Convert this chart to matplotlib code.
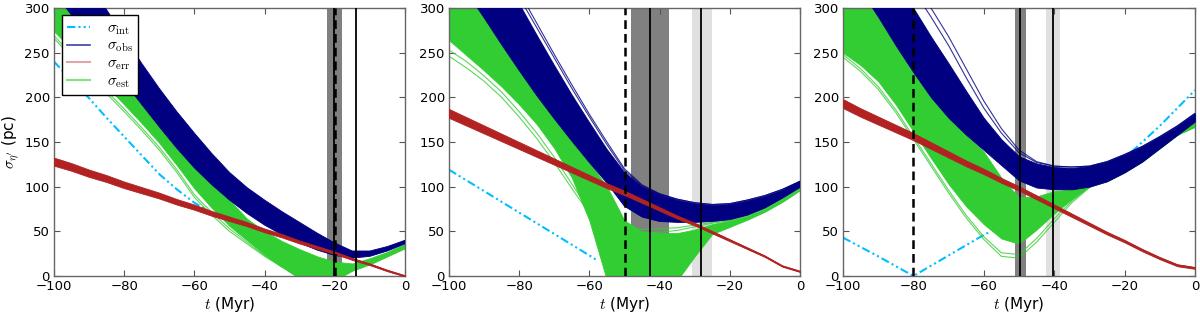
import numpy as np
import matplotlib
matplotlib.use("Agg")
import matplotlib.pyplot as plt
from matplotlib.lines import Line2D

plt.rcParams['font.family'] = ['DejaVu Sans']
plt.rcParams['mathtext.fontset'] = 'cm'
plt.rcParams['axes.unicode_minus'] = True

# ---------------- data ----------------
T = [-100, -95, -90, -85, -80, -75, -70, -65, -60, -55, -50,
     -45, -40, -35, -30, -25, -20, -15, -10, -5, 0]

# Panel 1
obs_hi_1 = [390, 358, 328, 298, 268, 238, 210, 184, 160, 137, 116, 99, 85, 72, 60, 48, 37, 28, 28, 33, 40]
obs_lo_1 = [318, 292, 267, 242, 217, 192, 167, 143, 121, 102, 85, 70, 57, 46, 37, 29, 23, 20, 22, 28, 36]
est_hi_1 = [318, 292, 267, 242, 217, 192, 167, 143, 121, 102, 85, 64, 50, 39, 30, 22, 16, 14, 20, 27, 36]
est_lo_1 = [274, 254, 233, 212, 192, 171, 149, 124, 98, 76, 56, 40, 24, 10, -3, -5, -5, 6, 13, 22, 31]
est_out_1a = [266, 245, 224, 204, 184, 163, 141, 116, 88, 68, 50, 36, 22, 10, 2, 0, 0, 8, 15, 24, 33]
est_out_1b = [269, 248, 227, 207, 187, 166, 144, 119, 91, 71, 53, 38, 23, 10, 2, 0, 0, 8, 15, 24, 33]
err_c_1 = [128, 122, 115, 109, 102, 96, 90, 83, 77, 70, 64, 58, 51, 45, 38, 32, 26, 19, 13, 6, 0]
err_w_1 = [9, 8.6, 8.2, 7.8, 7.4, 7, 6.6, 6.2, 5.8, 5.4, 5, 4.6, 4.2, 3.8, 3.4, 3, 2.6, 2.2, 1.8, 1.4, 1]
int_t_1 = [-100, -95, -90, -85, -80, -75, -70, -65, -60, -57]
int_v_1 = [240, 219, 199, 177, 156, 135, 114, 97, 82, 75]

# Panel 2
obs_hi_2 = [445, 410, 375, 340, 305, 270, 236, 203, 172, 142, 116, 100, 91, 85, 81, 79, 80, 84, 89, 96, 106]
obs_lo_2 = [346, 318, 289, 259, 230, 202, 176, 151, 127, 104, 78, 66, 61, 60, 60, 61, 63, 68, 76, 87, 99]
est_hi_2 = [346, 318, 289, 259, 230, 202, 176, 151, 127, 100, 62, 50, 48, 48, 52, 58, 62, 67, 75, 86, 98]
est_lo_2 = [264, 247, 230, 212, 192, 170, 143, 110, 62, -5, -5, -5, -5, -5, 22, 47, 55, 63, 72, 83, 96]
est_out_2a = [253, 240, 224, 206, 184, 160, 133, 103, 73, 57, 50, 48, 49, 51, 55, 59, 62, 67, 75, 86, 98]
est_out_2b = [246, 233, 218, 200, 178, 154, 127, 98, 70, 56, 53, 52, 53, 54, 57, 60, 63, 68, 76, 87, 99]
obs_out_2a = [470, 430, 392, 355, 318, 283, 248, 214, 181, 150, 120, 102, 92, 86, 82, 80, 81, 85, 90, 97, 106]
obs_out_2b = [460, 422, 385, 348, 312, 278, 244, 210, 178, 147, 118, 101, 92, 86, 82, 80, 81, 85, 90, 97, 106]
err_c_2 = [182, 173, 164, 155, 146, 137, 128, 119, 110, 101, 93, 84, 75, 66, 58, 49, 40, 31, 22, 11, 5]
err_w_2 = [10, 9.5, 9, 8.5, 8, 7.5, 7, 6.5, 6, 5.5, 5, 4.5, 4, 3.5, 3, 2.6, 2.2, 1.8, 1.4, 1.2, 1]
int_t_2 = [-100, -90, -80, -70, -60, -58]
int_v_2 = [119, 95, 71, 47, 23, 18]

# Panel 3
obs_hi_3 = [420, 390, 360, 330, 300, 268, 238, 207, 177, 153, 134, 126, 122, 121, 123, 128, 136, 145, 156, 168, 182]
obs_lo_3 = [348, 320, 290, 258, 228, 200, 177, 158, 141, 124, 107, 99, 97, 97, 100, 106, 116, 128, 143, 158, 173]
est_hi_3 = [348, 320, 290, 258, 228, 200, 177, 158, 139, 110, 88, 89, 95, 97, 100, 106, 116, 128, 143, 158, 175]
est_lo_3 = [250, 236, 218, 192, 162, 132, 103, 78, 58, 42, 36, 52, 70, 86, 100, 114, 126, 138, 148, 158, 167]
est_out_3a = [248, 232, 212, 186, 156, 126, 96, 68, 44, 26, 24, 42, 64, 84, 100, 114, 126, 138, 148, 158, 167]
est_out_3b = [245, 229, 209, 183, 153, 123, 93, 65, 41, 22, 20, 38, 60, 82, 99, 114, 126, 138, 148, 158, 167]
obs_out_3a = [470, 435, 400, 365, 330, 300, 268, 232, 196, 165, 141, 128, 123, 122, 123, 128, 136, 145, 156, 168, 182]
obs_out_3b = [460, 425, 390, 355, 320, 290, 258, 222, 188, 160, 138, 127, 123, 122, 123, 128, 136, 145, 156, 168, 182]
err_c_3 = [193, 183, 174, 165, 156, 146, 136, 126, 117, 107, 98, 88, 78, 68, 58, 48, 39, 29, 20, 12, 9]
err_w_3 = [10, 9.5, 9, 8.5, 8, 7.5, 7, 6.5, 6, 5.5, 5, 4.6, 4.2, 3.8, 3.4, 3, 2.8, 2.6, 2.4, 2.2, 2]
int_t_3a = [-100, -90, -80, -70, -60, -58]
int_v_3a = [43, 22, 0, 23, 46, 50]
int_t_3b = [-18, -10, -5, 0]
int_v_3b = [139, 168, 188, 208]

# vertical markers
dark_spans = [[(-22.3, -17.9)], [(-48.1, -37.4)], [(-51.2, -48.0)]]
light_spans = [[], [(-30.8, -25.05)], [(-42.3, -38.3)]]
solid_lines = [[-20.3, -14.0], [-42.7, -28.1], [-49.6, -40.4]]
dashed_lines = [[-19.9], [-50.0], [-80.0]]

xticks = [-100, -80, -60, -40, -20, 0]
yticks = [0, 50, 100, 150, 200, 250, 300]

# ---------------- styling ----------------
C_INT = '#00BFFF'
C_OBS = '#000080'
C_ERR = '#B22222'
C_EST = '#32CD32'
INT_DASH = (0, (4, 1.5, 1, 1.5, 1, 1.5))

fig = plt.figure(figsize=(12, 3.15), dpi=100)
lefts = [54 / 1200, 449 / 1200, 843 / 1200]
widths = [351 / 1200, 351 / 1200, 352 / 1200]
bottom = 1 - 276 / 315
height = 268 / 315

panels = [
    dict(obs_hi=obs_hi_1, obs_lo=obs_lo_1, est_hi=est_hi_1, est_lo=est_lo_1,
         est_out=[est_out_1a, est_out_1b], obs_out=[],
         err_c=err_c_1, err_w=err_w_1, ints=[(int_t_1, int_v_1)]),
    dict(obs_hi=obs_hi_2, obs_lo=obs_lo_2, est_hi=est_hi_2, est_lo=est_lo_2,
         est_out=[est_out_2a, est_out_2b], obs_out=[obs_out_2a, obs_out_2b],
         err_c=err_c_2, err_w=err_w_2, ints=[(int_t_2, int_v_2)]),
    dict(obs_hi=obs_hi_3, obs_lo=obs_lo_3, est_hi=est_hi_3, est_lo=est_lo_3,
         est_out=[est_out_3a, est_out_3b], obs_out=[obs_out_3a, obs_out_3b],
         err_c=err_c_3, err_w=err_w_3, ints=[(int_t_3a, int_v_3a), (int_t_3b, int_v_3b)]),
]

t = np.array(T, dtype=float)
for i, p in enumerate(panels):
    ax = fig.add_axes([lefts[i], bottom, widths[i], height])
    for (a, b) in dark_spans[i]:
        ax.axvspan(a, b, color='#808080', lw=0, zorder=0)
    for (a, b) in light_spans[i]:
        ax.axvspan(a, b, color='#E0E0E0', lw=0, zorder=0)
    for tt, vv in p['ints']:
        ax.plot(tt, vv, color=C_INT, lw=1.5, ls=INT_DASH, zorder=1)
    # sigma_est ensemble
    ax.fill_between(t, p['est_lo'], p['est_hi'], color=C_EST, lw=0.6, ec=C_EST, zorder=2)
    for o in p['est_out']:
        ax.plot(t, o, color=C_EST, lw=0.8, alpha=0.8, zorder=2)
    # sigma_obs ensemble
    ax.fill_between(t, p['obs_lo'], p['obs_hi'], color=C_OBS, lw=0.6, ec=C_OBS, zorder=3)
    for o in p['obs_out']:
        ax.plot(t, o, color=C_OBS, lw=0.8, alpha=0.8, zorder=3)
    # sigma_err
    c = np.array(p['err_c'], dtype=float)
    w = np.array(p['err_w'], dtype=float)
    ax.fill_between(t, c - w / 2, c + w / 2, color=C_ERR, lw=0.6, ec=C_ERR, zorder=4)
    ax.plot(t, c, color=C_ERR, lw=1.2, zorder=4)
    for x in solid_lines[i]:
        ax.axvline(x, color='black', lw=1.3, zorder=5)
    for x in dashed_lines[i]:
        ax.axvline(x, color='black', lw=1.8, ls=(0, (3.5, 2)), zorder=5)

    ax.set_xlim(-100, 0)
    ax.set_ylim(0, 300)
    ax.set_xticks(xticks)
    ax.set_yticks(yticks)
    ax.tick_params(direction='in', top=True, right=True, length=4, width=0.8,
                   color='#555555', labelsize=9.5, pad=3)
    for s in ax.spines.values():
        s.set_color('#666666')
        s.set_linewidth(1.0)
    ax.set_xlabel(r'$t$ (Myr)', fontsize=11, labelpad=1)
    if i == 0:
        ax.set_ylabel(r"$\sigma_{\eta'}$ (pc)", fontsize=11, labelpad=2)
        handles = [
            Line2D([], [], color=C_INT, lw=1.5, ls=INT_DASH),
            Line2D([], [], color=C_OBS, lw=1.2, alpha=0.75),
            Line2D([], [], color=C_ERR, lw=1.5, alpha=0.4),
            Line2D([], [], color=C_EST, lw=1.5, alpha=0.6),
        ]
        labels = [r'$\sigma_{\rm int}$', r'$\sigma_{\rm obs}$',
                  r'$\sigma_{\rm err}$', r'$\sigma_{\rm est}$']
        leg = ax.legend(handles, labels, loc='upper left', bbox_to_anchor=(0.022, 0.975),
                        borderaxespad=0, fontsize=11, handlelength=1.5,
                        handletextpad=1.1, labelspacing=0.08, borderpad=0.35,
                        fancybox=False, framealpha=1, edgecolor='black')
        leg.get_frame().set_linewidth(1.0)
        leg.set_zorder(10)

fig.savefig('out.png', dpi=100)
